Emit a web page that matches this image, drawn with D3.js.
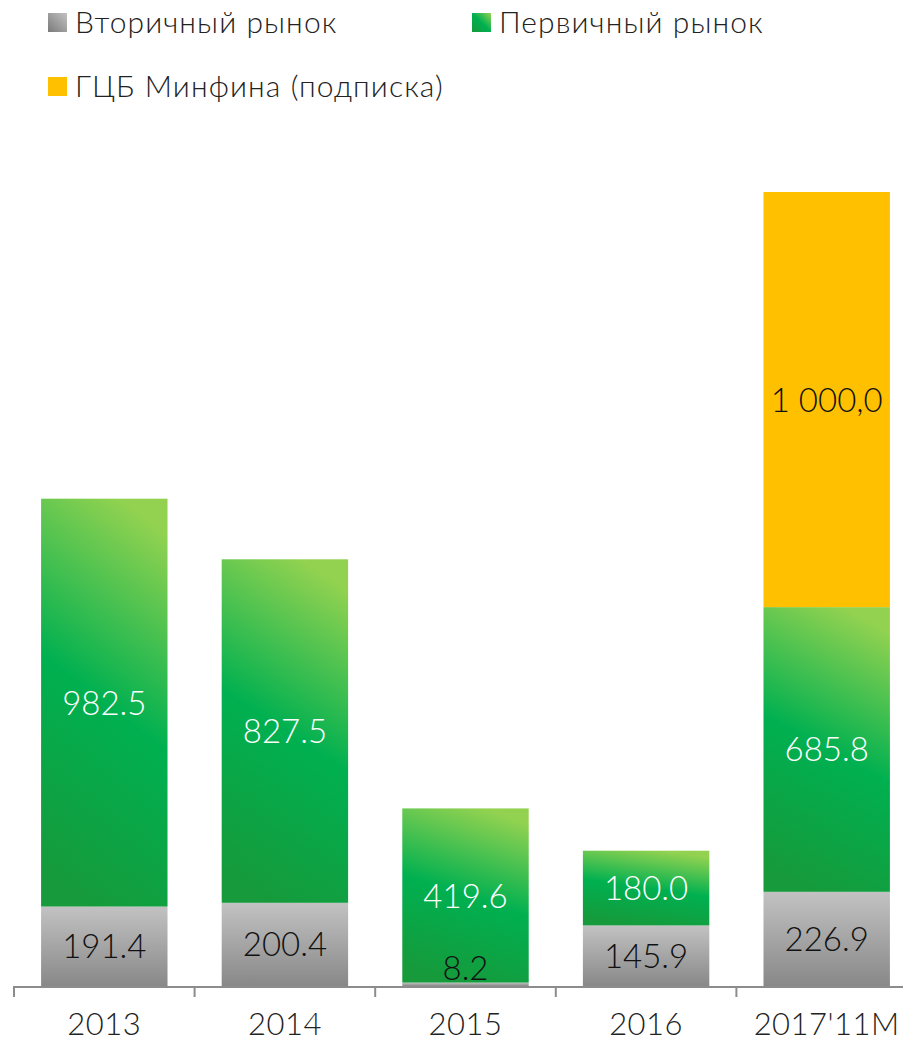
<!DOCTYPE html>
<html><head><meta charset="utf-8">
<script src="https://cdn.jsdelivr.net/npm/d3@7"></script>
<style>body{margin:0;background:#fff;} svg{display:block;}</style>
</head><body>
<svg id="chart" width="903" height="1041"></svg>
<script>
const categories = ["2013", "2014", "2015", "2016", "2017'11M"];
const secondary = [191.4, 200.4, 8.2, 145.9, 226.9];
const primary = [982.5, 827.5, 419.6, 180.0, 685.8];
const minfin = [0, 0, 0, 0, 1000.0];
const secondaryLabels = ["191.4", "200.4", "8.2", "145.9", "226.9"];
const primaryLabels = ["982.5", "827.5", "419.6", "180.0", "685.8"];
const minfinLabels = ["", "", "", "", "1 000,0"];
const seriesNames = ["Вторичный рынок", "Первичный рынок", "ГЦБ Минфина (подписка)"];

const FONT = "Lato, 'Open Sans', sans-serif";
const svg = d3.select("#chart");
const defs = svg.append("defs");

const gGrey = defs.append("linearGradient").attr("id","gGrey").attr("x1",0).attr("y1",0).attr("x2",0).attr("y2",1);
gGrey.append("stop").attr("offset","0%").attr("stop-color","#c2c2c2");
gGrey.append("stop").attr("offset","100%").attr("stop-color","#888888");
const gGreen = defs.append("linearGradient").attr("id","gGreen").attr("x1",0.62).attr("y1",0).attr("x2",0.38).attr("y2",1);
gGreen.append("stop").attr("offset","0%").attr("stop-color","#92d250");
gGreen.append("stop").attr("offset","50%").attr("stop-color","#00b050");
gGreen.append("stop").attr("offset","100%").attr("stop-color","#169a3b");
const gGreenL = defs.append("linearGradient").attr("id","gGreenL").attr("x1",1).attr("y1",0).attr("x2",0).attr("y2",1);
gGreenL.append("stop").attr("offset","0%").attr("stop-color","#94d352");
gGreenL.append("stop").attr("offset","50%").attr("stop-color","#00b050");
gGreenL.append("stop").attr("offset","100%").attr("stop-color","#169a3b");
const gGreyL = defs.append("linearGradient").attr("id","gGreyL").attr("x1",1).attr("y1",0).attr("x2",0).attr("y2",1);
gGreyL.append("stop").attr("offset","0%").attr("stop-color","#c2c2c2");
gGreyL.append("stop").attr("offset","100%").attr("stop-color","#7a7a7a");

const baseY = 986;
const totals = categories.map((c,i)=>secondary[i]+primary[i]+minfin[i]);
const x = d3.scaleBand().domain(categories).range([14, 917]).paddingInner(0.3).paddingOuter(0.15);
const y = d3.scaleLinear().domain([0, d3.max(totals)]).range([baseY, 192]);

const rows = categories.map((c,i)=>({cat:c, secondary:secondary[i], primary:primary[i], minfin:minfin[i]}));
const keys = ["secondary","primary","minfin"];
const stacked = d3.stack().keys(keys)(rows);
const fills = {secondary:"url(#gGrey)", primary:"url(#gGreen)", minfin:"#ffc000"};
const labelArr = {secondary:secondaryLabels, primary:primaryLabels, minfin:minfinLabels};
const labelColor = {secondary:"#111", primary:"#fff", minfin:"#111"};

stacked.forEach(s=>{
  svg.append("g").selectAll("rect").data(s).join("rect")
    .attr("x", d=>x(d.data.cat))
    .attr("width", x.bandwidth())
    .attr("y", d=>y(d[1]))
    .attr("height", d=>Math.max(0, y(d[0])-y(d[1])))
    .attr("fill", fills[s.key]);
});

// axis
const axisG = svg.append("g");
axisG.append("line").attr("x1",14).attr("x2",903).attr("y1",baseY+1).attr("y2",baseY+1)
  .attr("stroke","#8c8c8c").attr("stroke-width",2);
const step = x.step();
const tickXs = categories.map(c=>x(c) - step*x.paddingInner()/2);
axisG.selectAll("line.tick").data(tickXs).join("line").attr("class","tick")
  .attr("x1",d=>d).attr("x2",d=>d).attr("y1",baseY).attr("y2",baseY+11)
  .attr("stroke","#8c8c8c").attr("stroke-width",2);
axisG.selectAll("text").data(categories).join("text")
  .attr("x", d=>x(d)+x.bandwidth()/2).attr("y", 1035)
  .attr("text-anchor","middle").attr("font-family",FONT).attr("font-weight",300)
  .attr("font-size",31).attr("letter-spacing",0.5).attr("fill","#222").text(d=>d);

// labels
stacked.forEach(s=>{
  svg.append("g").selectAll("text").data(s).join("text")
    .attr("x", d=>x(d.data.cat)+x.bandwidth()/2)
    .attr("y", d=>{
      const h = y(d[0])-y(d[1]);
      if (h < 30) return y(d[0]) - 6;
      return (y(d[0])+y(d[1]))/2 + 12;
    })
    .attr("text-anchor","middle").attr("font-family",FONT).attr("font-weight",300)
    .attr("font-size",33)
    .attr("fill", (d,i)=>labelColor[s.key])
    .text((d,i)=>labelArr[s.key][i]);
});

// legend
const legendItems = [
  {name:seriesNames[0], fill:"url(#gGreyL)", x:48, y:13},
  {name:seriesNames[1], fill:"url(#gGreenL)", x:472, y:13},
  {name:seriesNames[2], fill:"#ffc000", x:48, y:77}
];
const lg = svg.append("g");
legendItems.forEach(it=>{
  lg.append("rect").attr("x",it.x).attr("y",it.y).attr("width",19).attr("height",19).attr("fill",it.fill);
  lg.append("text").attr("x",it.x+27).attr("y",it.y+20).attr("font-family",FONT).attr("font-weight",300)
    .attr("font-size",30).attr("letter-spacing",1.1).attr("fill","#222").text(it.name);
});
</script>
</body></html>
